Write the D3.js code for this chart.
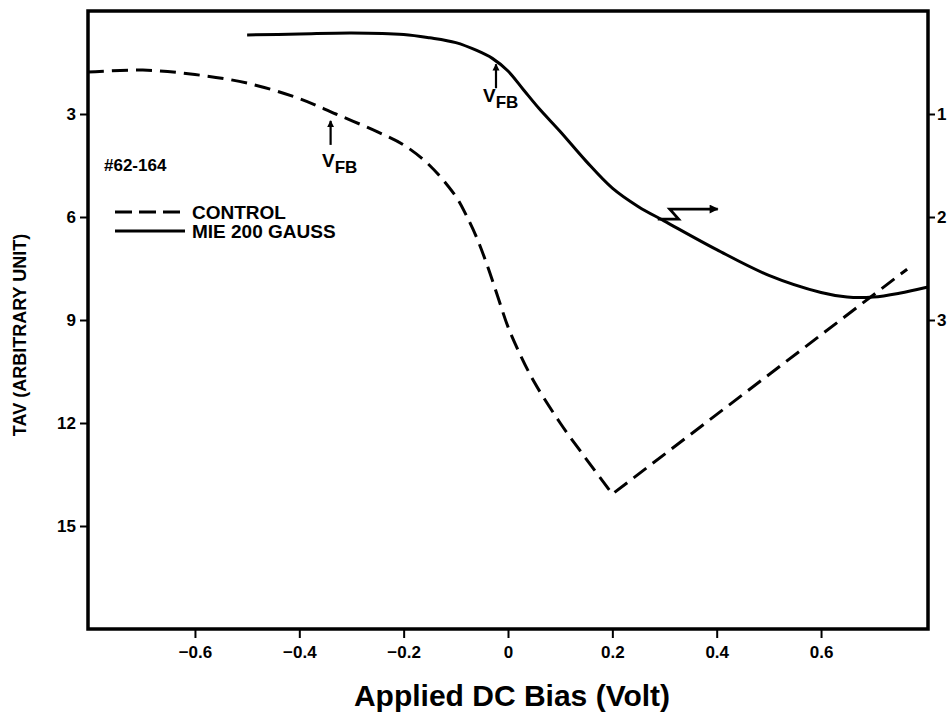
<!DOCTYPE html>
<html><head><meta charset="utf-8">
<script src="https://cdn.jsdelivr.net/npm/d3@7"></script>
<style>
body{margin:0;background:#fff;}
svg text{font-family:"Liberation Sans",Arial,Helvetica,sans-serif;font-weight:bold;fill:#000;}
</style></head>
<body>
<svg id="chart" width="950" height="713"></svg>
<script>
// ---- data ----
const xTicks = [-0.6, -0.4, -0.2, 0, 0.2, 0.4, 0.6];
const leftTicks = [3, 6, 9, 12, 15];
const rightTicks = [1, 2, 3];

// CONTROL (dashed) — left axis, TAV
const controlX = [-0.805, -0.7, -0.6, -0.5, -0.4, -0.33, -0.25, -0.2, -0.15, -0.1, -0.08, -0.06, -0.04, -0.02, 0, 0.02, 0.05, 0.1, 0.15, 0.2, 0.765];
const controlY = [1.78, 1.72, 1.85, 2.1, 2.55, 3.0, 3.52, 3.9, 4.5, 5.4, 5.95, 6.6, 7.4, 8.3, 9.2, 9.9, 10.8, 12.0, 13.05, 14.07, 7.52];

// MIE 200 GAUSS (solid) — right axis
const mieX = [-0.5, -0.4, -0.3, -0.2, -0.15, -0.1, -0.06, -0.03, 0, 0.03, 0.06, 0.1, 0.15, 0.2, 0.25, 0.3, 0.4, 0.5, 0.6, 0.65, 0.7, 0.75, 0.805];
const mieY = [0.233, 0.223, 0.213, 0.227, 0.26, 0.307, 0.383, 0.46, 0.583, 0.767, 0.95, 1.17, 1.46, 1.72, 1.90, 2.04, 2.317, 2.567, 2.733, 2.777, 2.777, 2.74, 2.68];

// ---- layout ----
const svg = d3.select("#chart");
const x = d3.scaleLinear().domain([-0.805, 0.805]).range([88, 928]);
const yL = d3.scaleLinear().domain([0, 18]).range([11, 629]);
const yR = d3.scaleLinear().domain([0, 6]).range([11, 629]);

// frame
svg.append("rect").attr("x", x.range()[0]).attr("y", yL.range()[0])
  .attr("width", x.range()[1] - x.range()[0]).attr("height", yL.range()[1] - yL.range()[0])
  .attr("fill", "none").attr("stroke", "#000").attr("stroke-width", 3.5);

// axes
const fmt = d => d === 0 ? "0" : d3.format(".1f")(d);
const gx = svg.append("g").attr("transform", `translate(0,${yL.range()[1]})`)
  .call(d3.axisBottom(x).tickValues(xTicks).tickFormat(fmt).tickSize(9).tickPadding(8));
const gl = svg.append("g").attr("transform", `translate(${x.range()[0]},0)`)
  .call(d3.axisLeft(yL).tickValues(leftTicks).tickFormat(d3.format("d")).tickSize(8).tickPadding(4));
const gr = svg.append("g").attr("transform", `translate(${x.range()[1]},0)`)
  .call(d3.axisRight(yR).tickValues(rightTicks).tickFormat(d3.format("d")).tickSize(7).tickPadding(2));
[gx, gl, gr].forEach(g => {
  g.select(".domain").remove();
  g.selectAll(".tick line").attr("stroke", "#000").attr("stroke-width", 2);
  g.selectAll(".tick text").attr("font-size", 17).attr("font-weight", "bold")
    .attr("font-family", '"Liberation Sans",Arial,sans-serif');
});

// axis titles
svg.append("text").attr("x", 512).attr("y", 706).attr("text-anchor", "middle")
  .attr("font-size", 30).text("Applied DC Bias (Volt)");
svg.append("text").attr("transform", "translate(26,335) rotate(-90)").attr("text-anchor", "middle")
  .attr("font-size", 18).text("TAV (ARBITRARY UNIT)");

// curves
const minIdx = controlY.indexOf(d3.max(controlY));
const ctrlPts = controlX.map((d, i) => [d, controlY[i]]);
const lineCurve = d3.line().x(d => x(d[0])).y(d => yL(d[1])).curve(d3.curveCatmullRom.alpha(0.5));
const lineLin = d3.line().x(d => x(d[0])).y(d => yL(d[1]));
const p1 = svg.append("path").attr("d", lineCurve(ctrlPts.slice(0, minIdx + 1)))
  .attr("fill", "none").attr("stroke", "#000").attr("stroke-width", 3).attr("stroke-dasharray", "16,8");
const len1 = p1.node().getTotalLength();
svg.append("path").attr("d", lineLin(ctrlPts.slice(minIdx)))
  .attr("fill", "none").attr("stroke", "#000").attr("stroke-width", 3).attr("stroke-dasharray", "16,8")
  .attr("stroke-dashoffset", len1 % 24);

const miePts = mieX.map((d, i) => [d, mieY[i]]);
svg.append("path").attr("d", d3.line().x(d => x(d[0])).y(d => yR(d[1])).curve(d3.curveCatmullRom.alpha(0.5))(miePts))
  .attr("fill", "none").attr("stroke", "#000").attr("stroke-width", 3);

// arrowhead markers
const defs = svg.append("defs");
defs.append("marker").attr("id", "ah").attr("viewBox", "0 0 10 10").attr("refX", 9).attr("refY", 5)
  .attr("markerWidth", 7).attr("markerHeight", 8).attr("markerUnits", "userSpaceOnUse").attr("orient", "auto")
  .append("path").attr("d", "M0,0L10,5L0,10Z").attr("fill", "#000");
defs.append("marker").attr("id", "ah2").attr("viewBox", "0 0 10 10").attr("refX", 9).attr("refY", 5)
  .attr("markerWidth", 14).attr("markerHeight", 9).attr("markerUnits", "userSpaceOnUse").attr("orient", "auto")
  .append("path").attr("d", "M0,0L10,5L0,10Z").attr("fill", "#000");

// VFB annotations
function vfb(xv, yTail, yTip, lx, ly) {
  svg.append("line").attr("x1", x(xv)).attr("x2", x(xv)).attr("y1", yL(yTail)).attr("y2", yL(yTip))
    .attr("stroke", "#000").attr("stroke-width", 2.2).attr("marker-end", "url(#ah)");
  const t = svg.append("text").attr("x", lx).attr("y", ly).attr("font-size", 19);
  t.append("tspan").text("V");
  t.append("tspan").attr("dy", 6).attr("font-size", 17).text("FB");
}
vfb(-0.34, 3.9, 3.2, 322, 167);
vfb(-0.023, 2.25, 1.55, 483, 102);

// zigzag arrow pointing to right axis
const zig = [[0.287, 6.06], [0.327, 6.06], [0.31, 5.77], [0.402, 5.77]];
svg.append("path").attr("d", lineLin(zig)).attr("fill", "none").attr("stroke", "#000")
  .attr("stroke-width", 2.8).attr("marker-end", "url(#ah2)");

// legend / sample id
svg.append("text").attr("x", 104).attr("y", 171).attr("font-size", 17).text("#62-164");
svg.append("line").attr("x1", 115).attr("x2", 185).attr("y1", 212).attr("y2", 212)
  .attr("stroke", "#000").attr("stroke-width", 3).attr("stroke-dasharray", "17,7");
svg.append("text").attr("x", 192).attr("y", 218.5).attr("font-size", 19).text("CONTROL");
svg.append("line").attr("x1", 115).attr("x2", 185).attr("y1", 231).attr("y2", 231)
  .attr("stroke", "#000").attr("stroke-width", 3);
svg.append("text").attr("x", 192).attr("y", 237.5).attr("font-size", 19).text("MIE 200 GAUSS");
</script>
</body></html>
